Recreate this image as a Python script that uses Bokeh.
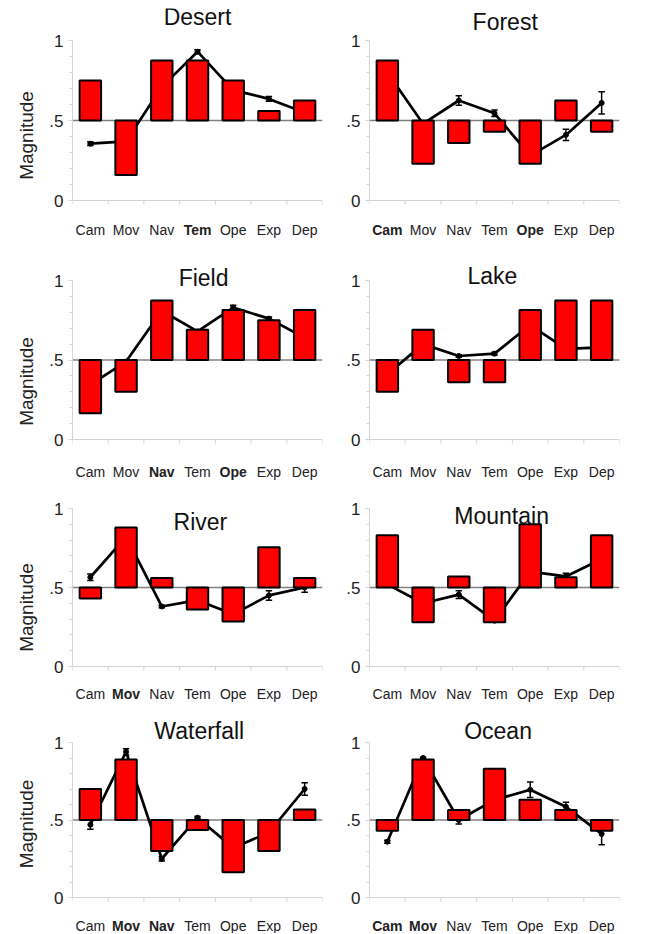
from bokeh.plotting import figure
from bokeh.models import Range1d, FixedTicker, Span, Label
from bokeh.layouts import column, row
from bokeh.embed import file_html
from bokeh.resources import INLINE
from bokeh.core.properties import value

# ---------------- data ----------------
categories = ["Cam", "Mov", "Nav", "Tem", "Ope", "Exp", "Dep"]
scenes = ["Desert", "Forest", "Field", "Lake", "River", "Mountain", "Waterfall", "Ocean"]

desert_bar = [0.75, 0.16, 0.875, 0.875, 0.75, 0.56, 0.625]
desert_line = [0.355, 0.37, 0.71, 0.93, 0.69, 0.635, 0.55]
desert_err = [0.012, 0.01, 0.0, 0.012, 0.0, 0.015, 0.0]
desert_bold = ["Tem"]

forest_bar = [0.875, 0.23, 0.36, 0.43, 0.23, 0.625, 0.43]
forest_line = [0.80, 0.48, 0.625, 0.545, 0.28, 0.41, 0.61]
forest_err = [0.0, 0.0, 0.03, 0.02, 0.0, 0.035, 0.07]
forest_bold = ["Cam", "Ope"]

field_bar = [0.165, 0.30, 0.875, 0.69, 0.815, 0.75, 0.815]
field_line = [0.345, 0.49, 0.81, 0.68, 0.83, 0.76, 0.64]
field_err = [0.0, 0.0, 0.0, 0.0, 0.015, 0.01, 0.0]
field_bold = ["Nav", "Ope"]

lake_bar = [0.30, 0.69, 0.36, 0.36, 0.815, 0.875, 0.875]
lake_line = [0.41, 0.60, 0.525, 0.54, 0.72, 0.57, 0.58]
lake_err = [0.0, 0.0, 0.008, 0.008, 0.0, 0.0, 0.0]
lake_bold = []

river_bar = [0.43, 0.88, 0.56, 0.36, 0.285, 0.755, 0.56]
river_line = [0.565, 0.82, 0.38, 0.42, 0.33, 0.45, 0.50]
river_err = [0.02, 0.0, 0.008, 0.0, 0.0, 0.03, 0.03]
river_bold = ["Mov"]

mountain_bar = [0.83, 0.28, 0.57, 0.28, 0.90, 0.565, 0.83]
mountain_line = [0.52, 0.40, 0.455, 0.29, 0.60, 0.57, 0.68]
mountain_err = [0.0, 0.0, 0.025, 0.0, 0.0, 0.02, 0.0]
mountain_bold = []

waterfall_bar = [0.70, 0.89, 0.30, 0.435, 0.163, 0.30, 0.567]
waterfall_line = [0.47, 0.94, 0.25, 0.515, 0.32, 0.42, 0.70]
waterfall_err = [0.03, 0.02, 0.015, 0.008, 0.0, 0.0, 0.04]
waterfall_bold = ["Mov", "Nav"]

ocean_bar = [0.43, 0.89, 0.565, 0.83, 0.63, 0.565, 0.43]
ocean_line = [0.36, 0.90, 0.50, 0.63, 0.695, 0.585, 0.41]
ocean_err = [0.01, 0.005, 0.025, 0.0, 0.05, 0.03, 0.07]
ocean_bold = ["Cam", "Mov"]

baseline = 0.5
y_ticks = [0, 0.5, 1]
y_tick_labels = ["0", ".5", "1"]

panels = [
    (desert_bar, desert_line, desert_err, desert_bold),
    (forest_bar, forest_line, forest_err, forest_bold),
    (field_bar, field_line, field_err, field_bold),
    (lake_bar, lake_line, lake_err, lake_bold),
    (river_bar, river_line, river_err, river_bold),
    (mountain_bar, mountain_line, mountain_err, mountain_bold),
    (waterfall_bar, waterfall_line, waterfall_err, waterfall_bold),
    (ocean_bar, ocean_line, ocean_err, ocean_bold),
]

# ---------------- layout / style ----------------
FONT = "Liberation Sans"
AXIS_GRAY = "#d4d4d4"
# per row: top border, plot height above 0 (px), px per unit, space below 0 (px), label offset (px)
row_geom = [
    (8, 192, 160.0, 62, 29),
    (0, 177, 159.0, 61, 32),
    (0, 166, 158.0, 48, 27),
    (0, 183, 155.0, 36, 28),
]
# title positions (x in category units, y in data units)
title_pos = [
    (3.50, 1.148), (3.80, 1.118),
    (3.67, 1.016), (3.44, 1.030),
    (3.58, 0.915), (3.70, 0.953),
    (3.55, 1.075), (3.60, 1.075),
]

n = len(categories)
xs = [i + 0.5 for i in range(n)]


def make_panel(idx):
    bars, line, err, bold = panels[idx]
    r, c = divmod(idx, 2)
    top, fh, scale, below, loff = row_geom[r]
    ytop = fh / scale
    ymin = -below / scale
    left = c == 0
    p = figure(
        frame_width=250, frame_height=fh + below,
        x_range=Range1d(0, n), y_range=Range1d(ymin, ytop),
        output_backend="svg", toolbar_location=None,
        min_border_left=72 if left else 39,
        min_border_right=8 if left else 19,
        min_border_top=top, min_border_bottom=0,
        x_axis_location=None,
    )
    p.outline_line_color = None
    p.xgrid.visible = False
    p.ygrid.visible = False
    p.background_fill_color = "white"
    p.border_fill_color = "white"

    # y axis
    ya = p.yaxis[0]
    ya.ticker = FixedTicker(ticks=y_ticks,
                            minor_ticks=[0.1, 0.2, 0.3, 0.4, 0.6, 0.7, 0.8, 0.9])
    ya.bounds = (0, 1)
    ya.major_label_overrides = dict(zip(y_ticks, y_tick_labels))
    ya.axis_line_color = AXIS_GRAY
    ya.major_tick_line_color = AXIS_GRAY
    ya.minor_tick_line_color = AXIS_GRAY
    ya.major_tick_in = 0
    ya.major_tick_out = 4
    ya.minor_tick_in = 0
    ya.minor_tick_out = 3
    ya.major_label_standoff = 5
    ya.major_label_text_font = FONT
    ya.major_label_text_font_size = "17px"
    ya.major_label_text_color = "#222222"
    if left:
        ya.axis_label = "Magnitude"
        ya.axis_label_text_font = FONT
        ya.axis_label_text_font_size = "19px"
        ya.axis_label_text_font_style = "normal"
        ya.axis_label_text_color = "#222222"
        ya.axis_label_standoff = 9

    # x axis at 0: line + boundary ticks
    p.add_layout(Span(location=0, dimension="width", line_color=AXIS_GRAY,
                      line_width=1, level="underlay"))
    bx = list(range(n + 1))
    p.segment(x0=bx, y0=[0] * len(bx), x1=bx, y1=[-4 / scale] * len(bx),
              line_color=AXIS_GRAY, line_width=1)

    p.add_layout(Span(location=baseline, dimension="width",
                      line_color="#808080", line_width=1.3, level="underlay"))

    # error bars
    lo = [v - e for v, e in zip(line, err)]
    hi = [v + e for v, e in zip(line, err)]
    cap = 0.09
    ex = [x for x, e in zip(xs, err) if e > 0]
    elo = [a for a, e in zip(lo, err) if e > 0]
    ehi = [a for a, e in zip(hi, err) if e > 0]
    if ex:
        p.segment(x0=ex, y0=elo, x1=ex, y1=ehi, line_color="black", line_width=1.5)
        p.segment(x0=[x - cap for x in ex], y0=ehi, x1=[x + cap for x in ex], y1=ehi,
                  line_color="black", line_width=1.5)
        p.segment(x0=[x - cap for x in ex], y0=elo, x1=[x + cap for x in ex], y1=elo,
                  line_color="black", line_width=1.5)

    # line
    p.line(xs, line, line_color="black", line_width=2.7)
    p.scatter(xs, line, size=5, marker="circle", color="black")

    # bars
    p.vbar(x=xs, width=0.6, top=bars, bottom=baseline,
           fill_color="#ff0000", line_color="black", line_width=2)

    # category labels (some bold)
    ly = -loff / scale
    for style in ("normal", "bold"):
        sel = [i for i, k in enumerate(categories) if (k in bold) == (style == "bold")]
        if not sel:
            continue
        p.text(x=[xs[i] for i in sel], y=[ly] * len(sel),
               text=[categories[i] for i in sel],
               text_align="center", text_baseline="middle",
               text_font=value(FONT), text_font_size=value("14px"),
               text_font_style=value(style), text_color="#222222")

    tx, ty = title_pos[idx]
    p.add_layout(Label(x=tx, y=ty, text=scenes[idx], text_align="center",
                       text_baseline="middle", text_font=FONT,
                       text_font_size="23px", text_color="#111111"))
    return p


figs = [make_panel(i) for i in range(8)]
layout = column(*[row(figs[2 * r], figs[2 * r + 1]) for r in range(4)])

open("out.html", "w").write(file_html(layout, INLINE))
